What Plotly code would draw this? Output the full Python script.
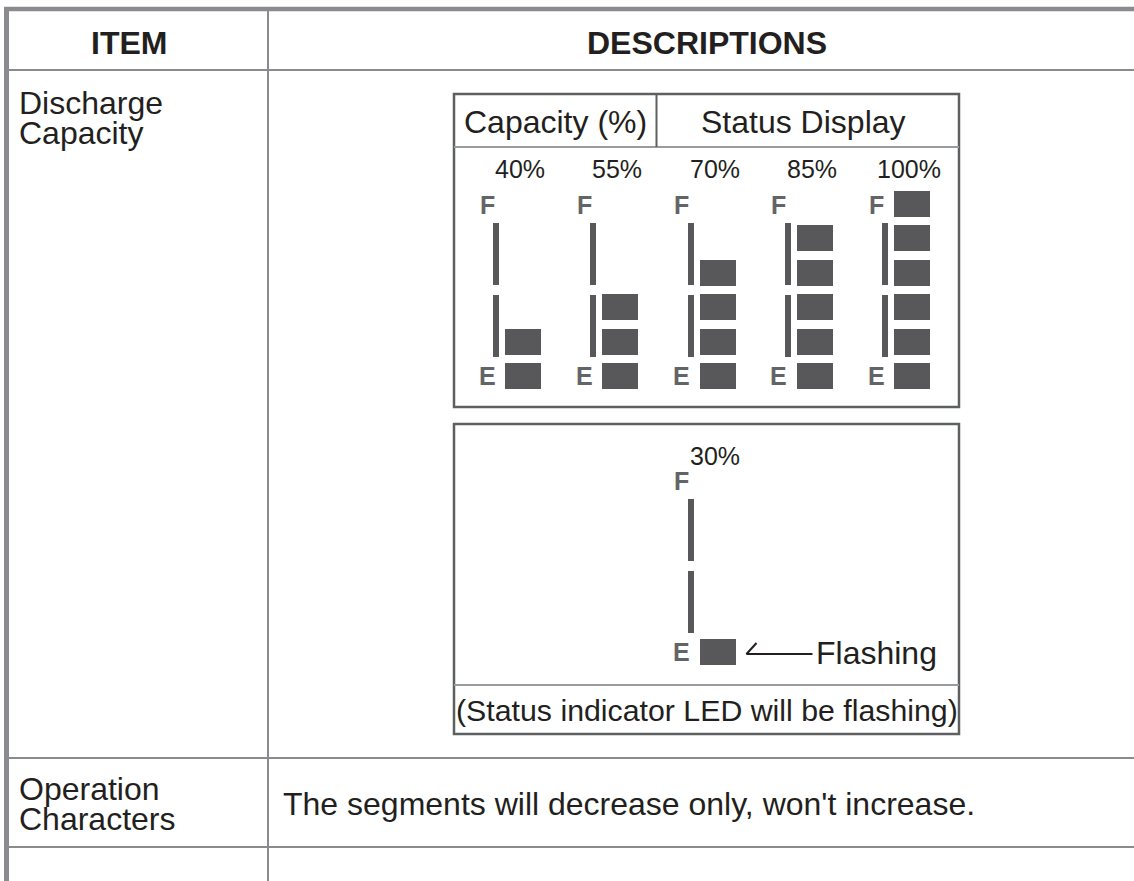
"""Discharge capacity status display table, drawn with Plotly on a pixel-space axis."""

import plotly.graph_objects as go

# Data
capacity_levels = [40, 55, 70, 85, 100]
lit_segments = [2, 3, 4, 5, 6]      # segments shown, counted from E upward
segment_count = 6
flash_level = 30
flash_lit = 1

header_item = "ITEM"
header_desc = "DESCRIPTIONS"
row_items = [["Discharge", "Capacity"], ["Operation", "Characters"]]
operation_text = "The segments will decrease only, won't increase."
box_headers = ["Capacity (%)", "Status Display"]
flash_note = "(Status indicator LED will be flashing)"
flash_label = "Flashing"

# Layout constants (pixels)
W, H = 1134, 881
FONT = "Liberation Sans, Arial, sans-serif"
TEXT = "#231f20"
SEG = "#58585a"
LETTER = "#636466"
GRID = "#8a8b8f"
BOX = "#5e5f61"

col_split = 268
header_line = 70
row_lines = [758, 847]

box_left, box_right = 454, 959
box1_top, box1_bottom, box1_head, box1_div = 94, 407, 147, 656.5
box2_top, box2_bottom, box2_sep = 424, 734, 685

first_col = 505
col_step = 97.25
seg_w, seg_h, seg_step = 36, 26, 34.5
e_top = 363                # top of E segment, first gauge
gauge2_shift = 276         # vertical offset of the flashing gauge

fig = go.Figure()


def gauge(x0, y_e, n_lit, xs, ys, bases, sx, sy, sb, anns, label, label_dy):
    for i in range(n_lit):
        xs.append(x0 + seg_w / 2)
        ys.append(seg_h)
        bases.append(y_e - i * seg_step)
    # scale rail, two pieces
    for top, bot in [(y_e - 140, y_e - 78), (y_e - 68, y_e - 6)]:
        sx.append(x0 - 9)
        sy.append(bot - top)
        sb.append(top)
    anns.append(dict(x=x0 - 18, y=y_e - 158, text="<b>F</b>", size=25, color=LETTER))
    anns.append(dict(x=x0 - 18, y=y_e + 13, text="<b>E</b>", size=25, color=LETTER))
    anns.append(dict(x=x0 + 15, y=y_e - 194.5 + label_dy, text=label, size=25, color=TEXT))


xs, ys, bases, sx, sy, sb, anns = [], [], [], [], [], [], []
for j, (lvl, n) in enumerate(zip(capacity_levels, lit_segments)):
    gauge(first_col + j * col_step, e_top, n, xs, ys, bases, sx, sy, sb, anns, f"{lvl}%", 0)
gauge(first_col + 2 * col_step, e_top + gauge2_shift, flash_lit, xs, ys, bases,
      sx, sy, sb, anns, f"{flash_level}%", 11)

fig.add_trace(go.Bar(x=xs, y=ys, base=bases, width=seg_w, marker=dict(color=SEG, line=dict(width=0)),
                     hoverinfo="skip"))
fig.add_trace(go.Bar(x=sx, y=sy, base=sb, width=6, marker=dict(color=SEG, line=dict(width=0)),
                     hoverinfo="skip"))

# flashing pointer
fx = first_col + 2 * col_step + seg_w
fy = e_top + gauge2_shift + 15
fig.add_trace(go.Scatter(x=[fx + 21, fx + 11, fx + 77], y=[fy - 11, fy, fy], mode="lines",
                         line=dict(color=TEXT, width=2), hoverinfo="skip"))

shapes = []


def line(x0, y0, x1, y1, color, width):
    shapes.append(dict(type="line", xref="x", yref="y", x0=x0, y0=y0, x1=x1, y1=y1,
                       line=dict(color=color, width=width)))


# table frame
line(4, 9, W, 9, GRID, 4.5)
line(6.5, 7, 6.5, H, GRID, 5)
line(col_split, 9, col_split, H, GRID, 2)
line(6.5, header_line, W, header_line, GRID, 2)
for y in row_lines:
    line(6.5, y, W, y, GRID, 2)

# gauge boxes
for top, bot in [(box1_top, box1_bottom), (box2_top, box2_bottom)]:
    shapes.append(dict(type="rect", xref="x", yref="y", x0=box_left, x1=box_right, y0=top, y1=bot,
                       line=dict(color=BOX, width=2.5)))
line(box_left, box1_head, box_right, box1_head, "#9a9b9e", 2)
line(box1_div, box1_top, box1_div, box1_head, BOX, 2)
line(box_left, box2_sep, box_right, box2_sep, "#9a9b9e", 2)

annotations = []


def text(x, y, s, size=32, color=TEXT, anchor="center"):
    annotations.append(dict(x=x, y=y, xref="x", yref="y", text=s, showarrow=False,
                            xanchor=anchor, yanchor="middle",
                            font=dict(family=FONT, size=size, color=color)))


text(129, 43, f"<b>{header_item}</b>")
text(707, 43, f"<b>{header_desc}</b>")
for (l1, l2), y in zip(row_items, [102.5, 788.5]):
    text(17, y, l1, anchor="left")
    text(17, y + 30.5, l2, anchor="left")
text(281, 803.5, operation_text, anchor="left")
text(555, 122, box_headers[0])
text(803, 122, box_headers[1])
text(706.5, 710, flash_note, size=30.3)
text(fx + 78, fy - 1.5, flash_label, anchor="left")
for a in anns:
    text(a["x"], a["y"], a["text"], size=a["size"], color=a["color"])

fig.update_layout(
    width=W, height=H,
    margin=dict(l=0, r=0, t=0, b=0),
    paper_bgcolor="white", plot_bgcolor="white",
    showlegend=False, barmode="overlay", bargap=0,
    shapes=shapes, annotations=annotations,
    xaxis=dict(range=[0, W], visible=False, fixedrange=True),
    yaxis=dict(range=[H, 0], visible=False, fixedrange=True),
)

# page body has a default 8px margin; drop it so the figure sits at the window corner
fig.write_html("out.html", config={"displayModeBar": False},
               post_script="document.body.style.margin='0';")
